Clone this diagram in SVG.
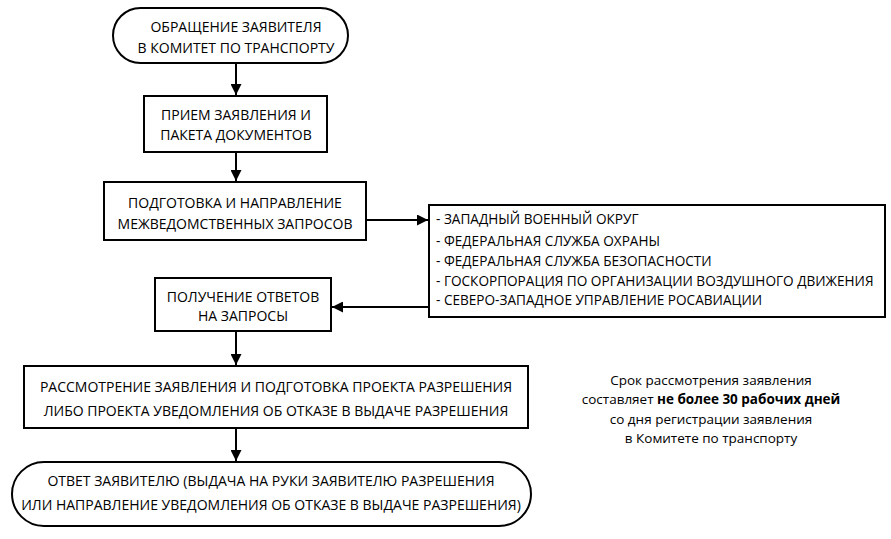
<svg xmlns="http://www.w3.org/2000/svg" width="891" height="539" viewBox="0 0 891 539">
<style>
.shape{fill:#fff;stroke:#000;stroke-width:2}
.t{font-family:"Open Sans","Noto Sans",sans-serif;font-size:14px;fill:#000;text-anchor:middle}
.l{text-anchor:start;font-size:13.6px}
.n{font-size:13.5px}
.c{stroke:#000;stroke-width:2;fill:none;marker-end:url(#ah)}
</style>
<defs>
<marker id="ah" viewBox="0 0 10 10" refX="10" refY="5" markerWidth="5.5" markerHeight="5.5" orient="auto" markerUnits="strokeWidth">
<path d="M0,0 L10,5 L0,10 z" fill="#000"/>
</marker>
</defs>
<rect width="891" height="539" fill="#fff"/>
<g id="n1"><rect class="shape" x="113" y="8" width="235" height="55" rx="27.5"/>
<text class="t" x="236" y="32">ОБРАЩЕНИЕ ЗАЯВИТЕЛЯ</text>
<text class="t" x="236" y="53">В КОМИТЕТ ПО ТРАНСПОРТУ</text></g>
<g id="n2"><rect class="shape" x="144" y="96" width="183" height="56"/>
<text class="t" x="236" y="120">ПРИЕМ ЗАЯВЛЕНИЯ И</text>
<text class="t" x="236" y="140">ПАКЕТА ДОКУМЕНТОВ</text></g>
<g id="n3"><rect class="shape" x="104" y="182" width="262" height="58"/>
<text class="t" x="235" y="208">ПОДГОТОВКА И НАПРАВЛЕНИЕ</text>
<text class="t" x="235" y="229">МЕЖВЕДОМСТВЕННЫХ ЗАПРОСОВ</text></g>
<g id="n4"><rect class="shape" x="429" y="205" width="456" height="112"/>
<text class="t l" x="436" y="224">- ЗАПАДНЫЙ ВОЕННЫЙ ОКРУГ</text>
<text class="t l" x="436" y="246">- ФЕДЕРАЛЬНАЯ СЛУЖБА ОХРАНЫ</text>
<text class="t l" x="436" y="266">- ФЕДЕРАЛЬНАЯ СЛУЖБА БЕЗОПАСНОСТИ</text>
<text class="t l" x="436" y="286">- ГОСКОРПОРАЦИЯ ПО ОРГАНИЗАЦИИ ВОЗДУШНОГО ДВИЖЕНИЯ</text>
<text class="t l" x="436" y="305">- СЕВЕРО-ЗАПАДНОЕ УПРАВЛЕНИЕ РОСАВИАЦИИ</text></g>
<g id="n5"><rect class="shape" x="155" y="278" width="176" height="53"/>
<text class="t" x="243" y="302">ПОЛУЧЕНИЕ ОТВЕТОВ</text>
<text class="t" x="243" y="321">НА ЗАПРОСЫ</text></g>
<g id="n6"><rect class="shape" x="24" y="366" width="504" height="62"/>
<text class="t" x="276" y="392">РАССМОТРЕНИЕ ЗАЯВЛЕНИЯ И ПОДГОТОВКА ПРОЕКТА РАЗРЕШЕНИЯ</text>
<text class="t" x="276" y="416">ЛИБО ПРОЕКТА УВЕДОМЛЕНИЯ ОБ ОТКАЗЕ В ВЫДАЧЕ РАЗРЕШЕНИЯ</text></g>
<g id="n7"><rect class="shape" x="12" y="462" width="519" height="64" rx="32"/>
<text class="t" x="271" y="486">ОТВЕТ ЗАЯВИТЕЛЮ (ВЫДАЧА НА РУКИ ЗАЯВИТЕЛЮ РАЗРЕШЕНИЯ</text>
<text class="t" x="271" y="510">ИЛИ НАПРАВЛЕНИЕ УВЕДОМЛЕНИЯ ОБ ОТКАЗЕ В ВЫДАЧЕ РАЗРЕШЕНИЯ)</text></g>
<g id="note">
<text class="t n" x="711" y="385">Срок рассмотрения заявления</text>
<text class="t n" x="711" y="404">составляет <tspan font-weight="bold">не более 30 рабочих дней</tspan></text>
<text class="t n" x="711" y="424">со дня регистрации заявления</text>
<text class="t n" x="711" y="443">в Комитете по транспорту</text>
</g>
<g id="connectors">
<line class="c" x1="236" y1="63" x2="236" y2="95"/>
<line class="c" x1="236" y1="152" x2="236" y2="181"/>
<line class="c" x1="366" y1="220" x2="428" y2="220"/>
<line class="c" x1="429" y1="307" x2="332" y2="307"/>
<line class="c" x1="236" y1="331" x2="236" y2="365"/>
<line class="c" x1="236" y1="428" x2="236" y2="461"/>
</g>
</svg>
